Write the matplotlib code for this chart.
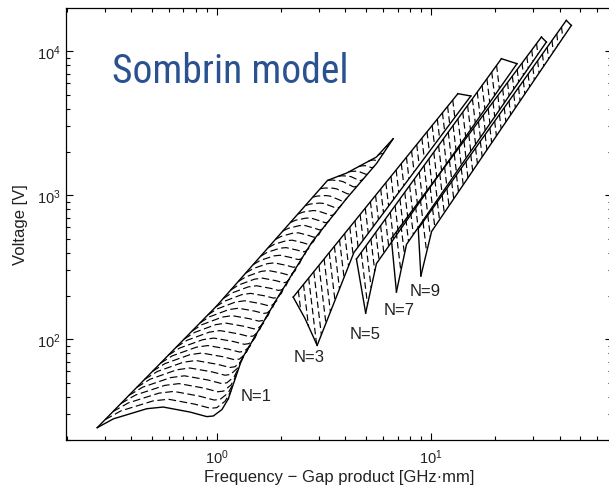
import numpy as np
import matplotlib
matplotlib.use("Agg")
import matplotlib.pyplot as plt
from matplotlib import font_manager as fm

# ---------------- data (frequency-gap product [GHz·mm], voltage [V]) ----------------
# N = 1 zone boundaries
n1_left_f = [0.277, 1.0, 3.30, 4.05, 5.58, 6.68]
n1_left_v = [24.3, 170, 1268, 1425, 1841, 2466]
n1_bottom_f = [0.277, 0.33, 0.472, 0.563, 0.751, 0.90, 0.966, 1.06, 1.135]
n1_bottom_v = [24.3, 28.0, 32.9, 33.8, 31.2, 29.0, 29.3, 32.5, 38.6]
n1_right_f = [1.135, 1.315, 1.914, 2.79, 4.05, 5.58, 6.68]
n1_right_v = [38.6, 73.3, 191, 473, 950, 1656, 2466]

# higher order zones N = 3, 5, 7, 9
orders = [3, 5, 7, 9]
upper_f = [[2.28, 13.4], [4.5, 21.4], [6.55, 32.9], [8.75, 43.0]]
upper_v = [[196, 5070], [360, 8870], [500, 12540], [585, 16370]]
notch_f = [[2.28, 2.59, 2.95], [4.5, 4.97], [6.55, 6.92], [8.75, 9.0]]
notch_v = [[196, 139, 90.6], [360, 152], [500, 213], [585, 275]]
lower_f = [[2.95, 4.38, 15.4], [4.97, 5.58, 25.3], [6.92, 7.71, 34.7], [9.0, 10.1, 45.4]]
lower_v = [[90.6, 400, 4887], [152, 335, 8190], [213, 455, 11580], [275, 560, 15100]]

label_text = ['N=1', 'N=3', 'N=5', 'N=7', 'N=9']
label_f = [1.29, 2.30, 4.19, 6.04, 8.0]
label_v = [40.5, 75.5, 109, 160, 219]

x_limits = (0.198, 70)
y_limits = (10 ** 1.3, 10 ** 4.3)

# ---------------- style ----------------
plt.rcParams['font.family'] = ['Liberation Sans', 'DejaVu Sans']
plt.rcParams['mathtext.default'] = 'regular'

# pick a narrow font for the title if one is installed
title_kw = dict(family=['Liberation Sans', 'DejaVu Sans'], fontsize=25)
entries = fm.fontManager.ttflist
found = False
for pref in ['Liberation Sans Narrow', 'Arial Narrow', 'Roboto Condensed', 'Open Sans Condensed',
             'Noto Sans Condensed']:
    if any(f.name == pref for f in entries):
        title_kw = dict(family=[pref, 'DejaVu Sans'], fontsize=28.5)
        found = True
        break
if not found:
    for f in entries:
        if f.stretch in ('condensed', 'semi-condensed') and f.name in ('Noto Sans', 'Open Sans', 'Roboto',
                                                                         'DejaVu Sans'):
            title_kw = dict(family=[f.name], fontsize=27, fontstretch='condensed')
            found = True
            break

LW_SOLID = 1.0
LW_DASH = 0.85
DASHES = (6.5, 3.0)

fig = plt.figure(figsize=(6.09, 4.89), dpi=100)
ax = fig.add_axes([66 / 609, 48 / 489, 545.6 / 609, 432 / 489])
ax.set_xscale('log')
ax.set_yscale('log')
ax.set_xlim(*x_limits)
ax.set_ylim(*y_limits)
fig.canvas.draw()

T = ax.transData
Ti = T.inverted()


def to_disp(fs, vs):
    return T.transform(np.column_stack([fs, vs]))


def to_data(P):
    return Ti.transform(P)


def resample(P, n):
    seg = np.sqrt(((P[1:] - P[:-1]) ** 2).sum(1))
    s = np.concatenate([[0], np.cumsum(seg)])
    s /= s[-1]
    u = np.linspace(0, 1, n)
    return np.column_stack([np.interp(u, s, P[:, 0]), np.interp(u, s, P[:, 1])])


def at_frac(P, t):
    seg = np.sqrt(((P[1:] - P[:-1]) ** 2).sum(1))
    s = np.concatenate([[0], np.cumsum(seg)])
    s /= s[-1]
    return np.array([np.interp(t, s, P[:, 0]), np.interp(t, s, P[:, 1])])


def plot_disp(P, **kw):
    D = to_data(P)
    return ax.plot(D[:, 0], D[:, 1], **kw)


# ---------------- N = 1 zone ----------------
L = to_disp(n1_left_f, n1_left_v)
B = to_disp(n1_bottom_f, n1_bottom_v)
R = to_disp(n1_right_f, n1_right_v)
ns = 200
Bs = resample(B, ns)
svals = np.linspace(0, 1, ns)[:, None]
n_lines = 36
for k in range(1, n_lines + 1):
    t = k / (n_lines + 1)
    Lt = at_frac(L, t)
    Rt = at_frac(R, t)
    P = (1 - t) * Bs + (1 - svals) * Lt + svals * Rt \
        - (1 - svals) * (1 - t) * B[0] - svals * (1 - t) * B[-1]
    plot_disp(P, color='black', lw=LW_DASH, dashes=DASHES)

for arr_f, arr_v in [(n1_left_f, n1_left_v), (n1_bottom_f, n1_bottom_v), (n1_right_f, n1_right_v)]:
    ax.plot(arr_f, arr_v, color='black', lw=LW_SOLID, solid_joinstyle='round')


# ---------------- higher order zones ----------------
def ray_hit(p, d, poly):
    best = None
    for i in range(len(poly) - 1):
        q0, q1 = poly[i], poly[i + 1]
        e = q1 - q0
        M = np.array([[d[0], -e[0]], [d[1], -e[1]]])
        det = np.linalg.det(M)
        if abs(det) < 1e-9:
            continue
        a, b = np.linalg.solve(M, q0 - p)
        if a > 1e-6 and -1e-9 <= b <= 1 + 1e-9:
            if best is None or a < best:
                best = a
    return None if best is None else p + best * d


direction = np.array([0.12, -1.0])
direction /= np.linalg.norm(direction)
spacing = 8.0

for i, n in enumerate(orders):
    U = to_disp(upper_f[i], upper_v[i])
    Nn = to_disp(notch_f[i], notch_v[i])
    Lo = to_disp(lower_f[i], lower_v[i])
    cap = np.array([Lo[-1], U[-1]])
    boundary = np.vstack([Nn, Lo[1:], cap[1:]])
    segU = np.sqrt(((U[1:] - U[:-1]) ** 2).sum(1)).sum()
    m = int(segU / spacing)
    for k in range(1, m):
        p = at_frac(U, k / m)
        q = ray_hit(p, direction, boundary)
        if q is None:
            continue
        plot_disp(np.array([p, q]), color='black', lw=LW_DASH, dashes=(5.5, 3.0))
    for arr_f, arr_v in [(upper_f[i], upper_v[i]), (notch_f[i], notch_v[i]), (lower_f[i], lower_v[i]),
                         ([lower_f[i][-1], upper_f[i][-1]], [lower_v[i][-1], upper_v[i][-1]])]:
        ax.plot(arr_f, arr_v, color='black', lw=LW_SOLID, solid_joinstyle='round')

# ---------------- labels ----------------
for txt, f, v in zip(label_text, label_f, label_v):
    ax.text(f, v, txt, ha='left', va='center', fontsize=12, color='#222222')

ax.text(0.0843, 0.829, 'Sombrin model', transform=ax.transAxes, va='baseline', ha='left',
        color='#2a5290', **title_kw)

ax.set_xlabel('Frequency \u2212 Gap product [GHz\u00b7mm]', fontsize=12, color='#222222')
ax.set_ylabel('Voltage [V]', fontsize=12, color='#222222')
ax.xaxis.set_label_coords(0.5, -0.068)
ax.yaxis.set_label_coords(-0.069, 0.5)

ax.tick_params(which='both', direction='in', top=True, right=True, width=0.8, colors='black',
               labelcolor='#222222', labelsize=10.5)
ax.tick_params(which='major', length=5)
ax.tick_params(which='minor', length=3)
ax.tick_params(axis='y', pad=4)
ax.tick_params(axis='x', pad=5.5)
for sp in ax.spines.values():
    sp.set_linewidth(0.9)

fig.savefig('out.png', dpi=100)
